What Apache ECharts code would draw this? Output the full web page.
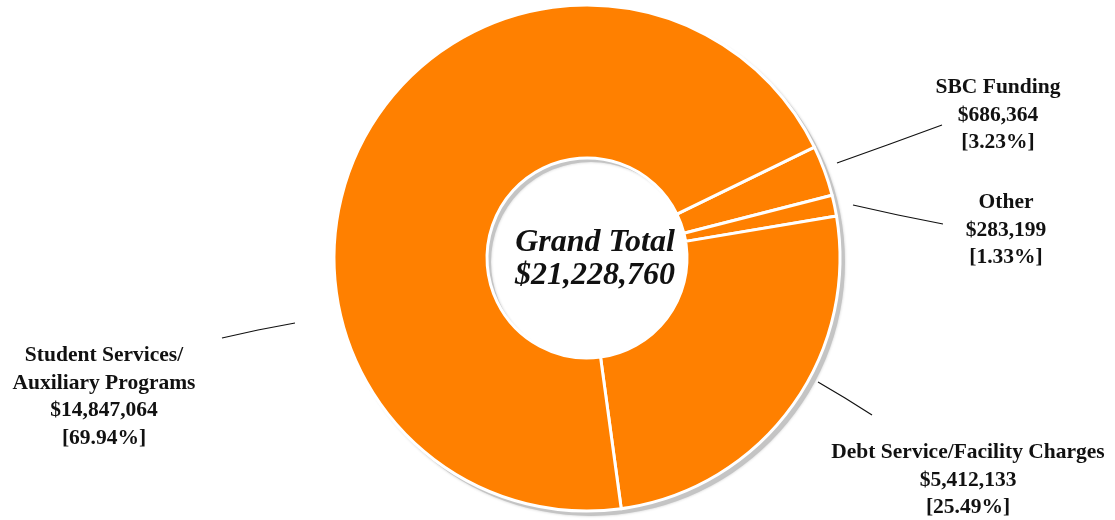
<!DOCTYPE html>
<html>
<head>
<meta charset="utf-8">
<script src="https://cdn.jsdelivr.net/npm/echarts@6/dist/echarts.min.js"></script>
<style>
  html, body { margin: 0; padding: 0; background: #fff; }
  #main { width: 1115px; height: 520px; }
</style>
</head>
<body>
<div id="main"></div>
<script>
// 数据
var names = ['SBC Funding', 'Other', 'Debt Service/Facility Charges', 'Student Services/\nAuxiliary Programs']
var values = [686364, 283199, 5412133, 14847064]
var pcts = ['3.23%', '1.33%', '25.49%', '69.94%']

// 标签位置（中心点）和引导线
var labelPos = [
  [998, 115],
  [1006, 230],
  [968, 480],
  [104, 397],
]
var linePts = [
  [[837, 163], [890, 144], [942, 125]],
  [[853, 205], [898, 215], [943, 224]],
  [[818, 382], [845, 398], [872, 415]],
  [[222, 338], [258, 330], [295, 323]],
]

function money(v) {
  return '$' + v.toString().replace(/\B(?=(\d{3})+(?!\d))/g, ',')
}

var total = values.reduce(function (a, b) { return a + b }, 0)

var myChart = echarts.init(document.getElementById('main'))
var serif = '"Liberation Serif", "Times New Roman", serif'

var option = {
  animation: false,
  graphic: [
    {
      type: 'text',
      x: 595,
      y: 259,
      style: {
        text: 'Grand Total\n' + money(total),
        align: 'center',
        verticalAlign: 'middle',
        font: 'italic bold 32px ' + serif,
        lineHeight: 33,
        fill: '#111',
      },
      z: 10,
    },
  ],
  series: [
    // 阴影环
    {
      type: 'pie',
      silent: true,
      center: [591, 262],
      radius: [100, 254],
      label: { show: false },
      labelLine: { show: false },
      itemStyle: {
        color: '#c4c4c4',
        shadowColor: 'rgba(0,0,0,0.2)',
        shadowBlur: 3,
      },
      data: [1],
      z: 1,
    },
    {
      type: 'pie',
      center: [587, 258],
      radius: [100, 253],
      startAngle: 26,
      clockwise: true,
      avoidLabelOverlap: false,
      itemStyle: {
        color: '#ff8000',
        borderColor: '#fff',
        borderWidth: 3,
      },
      label: {
        show: true,
        color: '#111',
        fontFamily: serif,
        fontWeight: 'bold',
        fontSize: 21.5,
        lineHeight: 27.5,
        align: 'center',
        formatter: function (p) {
          return p.name + '\n' + money(p.value) + '\n[' + pcts[p.dataIndex] + ']'
        },
      },
      labelLine: {
        show: true,
        lineStyle: { color: '#111', width: 1.2 },
      },
      labelLayout: function (params) {
        var i = params.dataIndex
        return {
          x: labelPos[i][0],
          y: labelPos[i][1],
          align: 'center',
          verticalAlign: 'middle',
          labelLinePoints: linePts[i],
        }
      },
      data: names.map(function (n, i) {
        return { name: n, value: values[i] }
      }),
      z: 2,
    },
  ],
}

myChart.setOption(option)
window.addEventListener('resize', function () {
  myChart.resize()
})
</script>
</body>
</html>
